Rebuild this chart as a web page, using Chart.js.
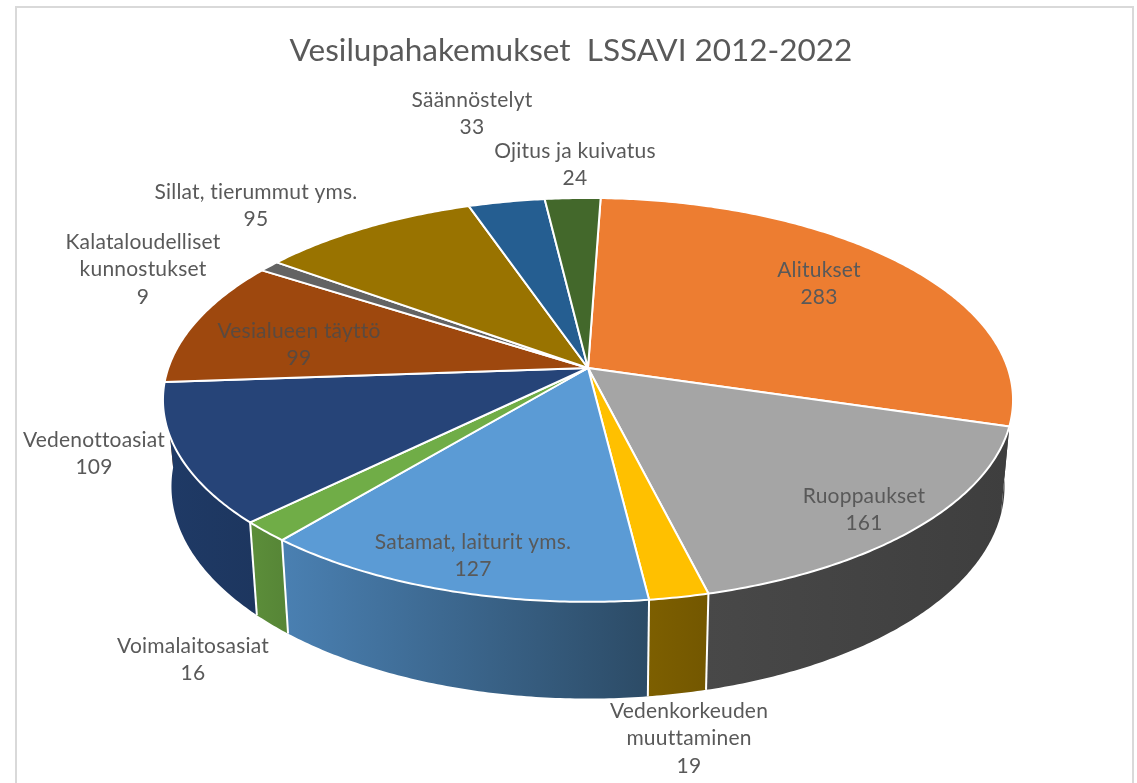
<!DOCTYPE html>
<html>
<head>
<meta charset="utf-8">
<title>Vesilupahakemukset</title>
<script src="https://cdn.jsdelivr.net/npm/chart.js@4"></script>
<style>
    html, body { margin: 0; padding: 0; background: #fff; overflow: hidden; }
    #frame { position: absolute; left: 15px; top: 6px; width: 1115px; height: 800px; border: 2px solid #d9d9d9; }
    #pie { position: absolute; left: 0; top: 0; }
</style>
</head>
<body>
<div id="frame"></div>
<canvas id="pie" width="1137" height="783"></canvas>
<script>
const TITLE = 'Vesilupahakemukset  LSSAVI 2012-2022';
const categories = ['Alitukset', 'Ruoppaukset', 'Vedenkorkeuden muuttaminen', 'Satamat, laiturit yms.', 'Voimalaitosasiat',
    'Vedenottoasiat', 'Vesialueen täyttö', 'Kalataloudelliset kunnostukset', 'Sillat, tierummut yms.', 'Säännöstelyt', 'Ojitus ja kuivatus'];
const values = [283, 161, 19, 127, 16, 109, 99, 9, 95, 33, 24];

const topColors = ['#ED7D31', '#A5A5A5', '#FFC000', '#5B9BD5', '#70AD47', '#264478', '#9E480E', '#636363', '#997300', '#255E91', '#43682B'];
// the orange wall faces away and only peeks out at the rim, so it takes the grey of its neighbour
const wallLeft = ['#444444', '#484848', '#7d5f00', '#4a80b2', '#5c8e3a', '#1f3a66', '#6e3209', '#444444', '#6b5000', '#1a4266', '#2f491e'];
const wallRight = ['#444444', '#3e3e3e', '#735700', '#2c4b66', '#568536', '#1d365f', '#6e3209', '#444444', '#6b5000', '#1a4266', '#2f491e'];

// label text lines and their centre position on the page, same order as categories
const labelLines = [['Alitukset'], ['Ruoppaukset'], ['Vedenkorkeuden', 'muuttaminen'], ['Satamat, laiturit yms.'], ['Voimalaitosasiat'],
    ['Vedenottoasiat'], ['Vesialueen täyttö'], ['Kalataloudelliset', 'kunnostukset'], ['Sillat, tierummut yms.'], ['Säännöstelyt'], ['Ojitus ja kuivatus']];
const labelX = [819, 864, 689, 473, 193, 94, 299, 143, 256, 472, 575];
const labelY = [270, 496, 711, 542, 646, 440, 331, 242, 192, 100, 151];
const labelColors = ['#595959', '#595959', '#595959', '#595959', '#595959', '#595959', '#5a4a40', '#595959', '#595959', '#595959', '#595959'];
const LINE_HEIGHT = 27.5;

// perspective of the pie disc
const CX = 588, CY = 368, RX = 419.7, RY = 196.9, PERSP = 0.158;
const WALL_CY = 453, WALL_SX = 0.98, WALL_SY = 1.05;

function rimTop(a) {
    const w = 1 - PERSP * Math.sin(a);
    return [CX + RX * Math.cos(a) / w, CY + RY * Math.sin(a) / w];
}

function rimBottom(a) {
    const w = 1 - PERSP * Math.sin(a);
    return [CX + WALL_SX * RX * Math.cos(a) / w, WALL_CY + WALL_SY * RY * Math.sin(a) / w];
}

function arcSamples(start, end) {
    const n = Math.max(2, Math.ceil((end - start) / 0.01));
    const out = [];
    for (let i = 0; i <= n; i++) out.push(start + (end - start) * i / n);
    return out;
}

function drawWall(ctx, arc, i) {
    const angles = arcSamples(arc.startAngle, arc.endAngle);
    const top = angles.map(rimTop);
    const bottom = angles.map(rimBottom).reverse();
    const xs = top.concat(bottom).map(p => p[0]);
    const grad = ctx.createLinearGradient(Math.min(...xs), 0, Math.max(...xs), 0);
    grad.addColorStop(0, wallLeft[i]);
    grad.addColorStop(1, wallRight[i]);
    ctx.beginPath();
    top.concat(bottom).forEach((p, k) => k ? ctx.lineTo(p[0], p[1]) : ctx.moveTo(p[0], p[1]));
    ctx.closePath();
    ctx.fillStyle = grad;
    ctx.fill();
}

function drawWallEdge(ctx, a) {
    if (Math.sin(a) < 0.3) return; // back edges are hidden
    const t = rimTop(a), b = rimBottom(a);
    ctx.beginPath();
    ctx.moveTo(t[0], t[1]);
    ctx.lineTo(b[0], b[1]);
    ctx.strokeStyle = '#fff';
    ctx.lineWidth = 2;
    ctx.stroke();
}

function drawTop(ctx, arc, i) {
    ctx.beginPath();
    ctx.moveTo(CX, CY);
    arcSamples(arc.startAngle, arc.endAngle).map(rimTop).forEach(p => ctx.lineTo(p[0], p[1]));
    ctx.closePath();
    ctx.fillStyle = topColors[i];
    ctx.fill();
    ctx.strokeStyle = '#fff';
    ctx.lineWidth = 2;
    ctx.lineJoin = 'round';
    ctx.stroke();
}

const pie3d = {
    id: 'pie3d',
    beforeDatasetsDraw(chart) {
        const ctx = chart.ctx;
        const arcs = chart.getDatasetMeta(0).data;
        const order = arcs.map((arc, i) => i)
            .sort((p, q) => Math.sin((arcs[p].startAngle + arcs[p].endAngle) / 2) - Math.sin((arcs[q].startAngle + arcs[q].endAngle) / 2));
        ctx.save();
        order.forEach(i => drawWall(ctx, arcs[i], i));
        arcs.forEach(arc => drawWallEdge(ctx, arc.startAngle));
        arcs.forEach((arc, i) => drawTop(ctx, arc, i));
        ctx.restore();
        return false; // the flat arcs are replaced by the drawing above
    },
    afterDraw(chart) {
        const ctx = chart.ctx;
        ctx.save();
        ctx.font = '21px Lato';
        ctx.letterSpacing = '0.2px';
        ctx.textAlign = 'center';
        ctx.textBaseline = 'middle';
        values.forEach((v, i) => {
            const lines = labelLines[i].concat(String(v));
            ctx.fillStyle = labelColors[i];
            lines.forEach((text, k) => ctx.fillText(text, labelX[i], labelY[i] + k * LINE_HEIGHT));
        });
        ctx.restore();
    }
};

new Chart(document.getElementById('pie'), {
    type: 'pie',
    data: {
        labels: categories,
        datasets: [{ data: values, backgroundColor: topColors, borderWidth: 0 }]
    },
    options: {
        responsive: false,
        animation: false,
        rotation: 2,
        layout: { padding: { left: 5 } },
        plugins: {
            legend: { display: false },
            tooltip: { enabled: false },
            title: {
                display: true,
                text: TITLE,
                color: '#595959',
                font: { family: 'Lato', size: 31.5, weight: 'normal' },
                padding: { top: 32, bottom: 10 }
            }
        }
    },
    plugins: [pie3d]
});
</script>
</body>
</html>
